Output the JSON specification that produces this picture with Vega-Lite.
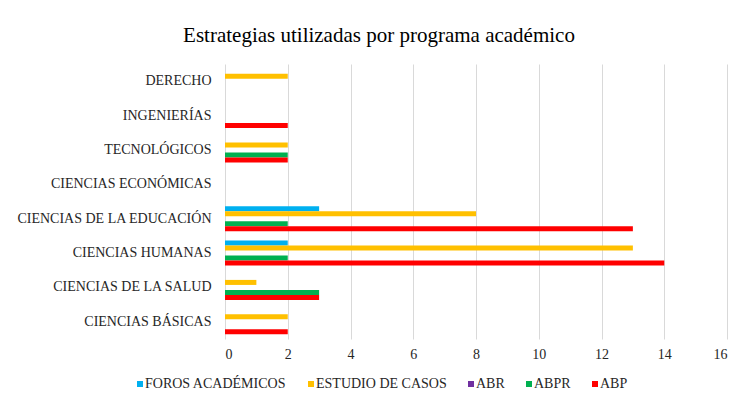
{
  "$schema": "https://vega.github.io/schema/vega-lite/v6.json",
  "width": 502,
  "height": 275,
  "autosize": "none",
  "padding": {"left": 225, "top": 64, "right": 19, "bottom": 70},
  "background": "white",
  "title": {
    "text": "Estrategias utilizadas por programa académico",
    "font": "Liberation Serif",
    "fontSize": 21,
    "fontWeight": "normal",
    "color": "#000000",
    "anchor": "middle",
    "frame": "group",
    "dx": -97,
    "offset": 18
  },
  "data": {
    "values": [
      {"programa": "DERECHO", "estrategia": "ESTUDIO DE CASOS", "valor": 2},
      {"programa": "INGENIERÍAS", "estrategia": "ABP", "valor": 2},
      {"programa": "TECNOLÓGICOS", "estrategia": "ESTUDIO DE CASOS", "valor": 2},
      {"programa": "TECNOLÓGICOS", "estrategia": "ABPR", "valor": 2},
      {"programa": "TECNOLÓGICOS", "estrategia": "ABP", "valor": 2},
      {"programa": "CIENCIAS DE LA EDUCACIÓN", "estrategia": "FOROS ACADÉMICOS", "valor": 3},
      {"programa": "CIENCIAS DE LA EDUCACIÓN", "estrategia": "ESTUDIO DE CASOS", "valor": 8},
      {"programa": "CIENCIAS DE LA EDUCACIÓN", "estrategia": "ABPR", "valor": 2},
      {"programa": "CIENCIAS DE LA EDUCACIÓN", "estrategia": "ABP", "valor": 13},
      {"programa": "CIENCIAS HUMANAS", "estrategia": "FOROS ACADÉMICOS", "valor": 2},
      {"programa": "CIENCIAS HUMANAS", "estrategia": "ESTUDIO DE CASOS", "valor": 13},
      {"programa": "CIENCIAS HUMANAS", "estrategia": "ABPR", "valor": 2},
      {"programa": "CIENCIAS HUMANAS", "estrategia": "ABP", "valor": 14},
      {"programa": "CIENCIAS DE LA SALUD", "estrategia": "ESTUDIO DE CASOS", "valor": 1},
      {"programa": "CIENCIAS DE LA SALUD", "estrategia": "ABPR", "valor": 3},
      {"programa": "CIENCIAS DE LA SALUD", "estrategia": "ABP", "valor": 3},
      {"programa": "CIENCIAS BÁSICAS", "estrategia": "ESTUDIO DE CASOS", "valor": 2},
      {"programa": "CIENCIAS BÁSICAS", "estrategia": "ABP", "valor": 2}
    ]
  },
  "mark": {"type": "bar"},
  "encoding": {
    "y": {
      "field": "programa",
      "type": "nominal",
      "title": null,
      "scale": {
        "domain": ["DERECHO", "INGENIERÍAS", "TECNOLÓGICOS", "CIENCIAS ECONÓMICAS", "CIENCIAS DE LA EDUCACIÓN", "CIENCIAS HUMANAS", "CIENCIAS DE LA SALUD", "CIENCIAS BÁSICAS"],
        "paddingInner": 0.27,
        "paddingOuter": 0.135
      },
      "axis": {
        "domain": false,
        "ticks": false,
        "grid": false,
        "labelFont": "Liberation Serif",
        "labelFontSize": 14,
        "labelColor": "#262626",
        "labelPadding": 14,
        "labelLimit": 300
      }
    },
    "yOffset": {
      "field": "estrategia",
      "type": "nominal",
      "scale": {
        "domain": ["FOROS ACADÉMICOS", "ESTUDIO DE CASOS", "ABR", "ABPR", "ABP"],
        "paddingInner": 0,
        "paddingOuter": 0
      }
    },
    "x": {
      "field": "valor",
      "type": "quantitative",
      "title": null,
      "scale": {"domain": [0, 16], "nice": false},
      "axis": {
        "values": [0, 2, 4, 6, 8, 10, 12, 14, 16],
        "domain": false,
        "ticks": false,
        "grid": true,
        "gridColor": "#d9d9d9",
        "gridWidth": 1,
        "labelFont": "Liberation Serif",
        "labelFontSize": 14,
        "labelColor": "#262626",
        "labelPadding": 8
      }
    },
    "color": {
      "field": "estrategia",
      "type": "nominal",
      "title": null,
      "scale": {
        "domain": ["FOROS ACADÉMICOS", "ESTUDIO DE CASOS", "ABR", "ABPR", "ABP"],
        "range": ["#00B0F0", "#FFC000", "#7030A0", "#00B050", "#FF0000"]
      },
      "legend": {
        "orient": "none",
        "legendX": -92,
        "legendY": 313,
        "direction": "horizontal",
        "columns": 5,
        "symbolType": "square",
        "symbolSize": 36,
        "symbolStrokeWidth": 0,
        "labelFont": "Liberation Serif",
        "labelFontSize": 14,
        "labelColor": "#262626",
        "labelOffset": -2,
        "columnPadding": 17
      }
    }
  },
  "config": {
    "view": {"stroke": null}
  }
}
